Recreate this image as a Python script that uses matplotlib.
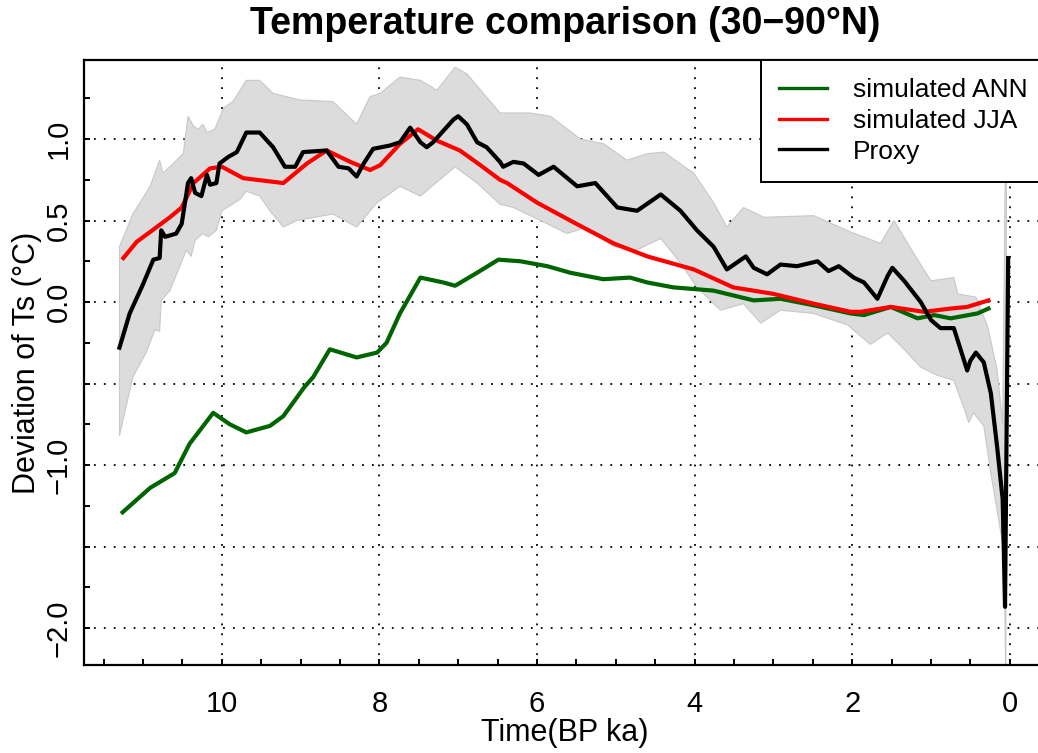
import matplotlib
matplotlib.use("Agg")
import matplotlib.pyplot as plt

plt.rcParams["font.family"] = ["Liberation Sans", "DejaVu Sans"]

# simulated annual mean (30-90N)
ann_x = [11.26, 10.91, 10.60, 10.41, 10.11, 9.90, 9.69, 9.39, 9.22, 8.95,
         8.84, 8.63, 8.29, 8.03, 7.91, 7.74, 7.48, 7.19, 7.04, 6.76,
         6.49, 6.21, 5.87, 5.58, 5.16, 4.82, 4.60, 4.27, 3.76, 3.25,
         2.91, 2.49, 2.02, 1.85, 1.51, 1.17, 0.96, 0.75, 0.41, 0.27]
ann_y = [-1.29, -1.14, -1.05, -0.87, -0.68, -0.75, -0.80, -0.76, -0.70, -0.52,
         -0.46, -0.29, -0.34, -0.31, -0.25, -0.07, 0.15, 0.12, 0.10, 0.18,
         0.26, 0.25, 0.22, 0.18, 0.14, 0.15, 0.12, 0.09, 0.07, 0.01,
         0.02, -0.02, -0.07, -0.08, -0.03, -0.10, -0.08, -0.10, -0.07, -0.04]

# simulated summer (JJA)
jja_x = [11.25, 11.08, 10.91, 10.66, 10.51, 10.36, 10.15, 10.00, 9.73, 9.22,
         8.92, 8.67, 8.37, 8.12, 7.99, 7.74, 7.51, 7.27, 6.98, 6.72,
         6.47, 6.38, 6.00, 5.54, 5.03, 4.60, 4.01, 3.51, 3.00, 2.49,
         2.02, 1.89, 1.51, 1.09, 0.75, 0.54, 0.27]
jja_y = [0.27, 0.37, 0.43, 0.52, 0.58, 0.73, 0.82, 0.83, 0.76, 0.73,
         0.85, 0.93, 0.86, 0.81, 0.84, 0.97, 1.06, 0.99, 0.93, 0.84,
         0.75, 0.73, 0.61, 0.49, 0.36, 0.28, 0.20, 0.09, 0.05, -0.01,
         -0.06, -0.06, -0.03, -0.06, -0.04, -0.03, 0.01]

# proxy reconstruction
proxy_x = [11.30, 11.17, 11.00, 10.87, 10.79, 10.77, 10.72, 10.58, 10.51, 10.43,
           10.39, 10.34, 10.26, 10.19, 10.15, 10.07, 10.03, 9.92, 9.81, 9.69,
           9.52, 9.35, 9.20, 9.07, 8.97, 8.67, 8.52, 8.39, 8.29, 8.20,
           8.08, 7.87, 7.74, 7.61, 7.48, 7.40, 7.32, 7.06, 7.00, 6.89,
           6.76, 6.64, 6.47, 6.43, 6.30, 6.17, 5.98, 5.79, 5.49, 5.26,
           4.98, 4.73, 4.43, 4.18, 3.97, 3.76, 3.59, 3.35, 3.25, 3.08,
           2.91, 2.70, 2.44, 2.30, 2.17, 1.98, 1.85, 1.68, 1.55, 1.49,
           1.34, 1.13, 1.00, 0.88, 0.71, 0.54, 0.50, 0.43, 0.33, 0.24,
           0.16, 0.09, 0.06, 0.02]
proxy_y = [-0.28, -0.07, 0.11, 0.26, 0.27, 0.44, 0.40, 0.42, 0.48, 0.73,
           0.76, 0.67, 0.65, 0.78, 0.72, 0.73, 0.85, 0.89, 0.92, 1.04,
           1.04, 0.95, 0.83, 0.83, 0.92, 0.93, 0.83, 0.82, 0.77, 0.85,
           0.94, 0.96, 0.98, 1.07, 0.98, 0.95, 0.98, 1.12, 1.14, 1.09,
           0.98, 0.95, 0.86, 0.83, 0.86, 0.85, 0.78, 0.83, 0.71, 0.73,
           0.58, 0.56, 0.66, 0.56, 0.44, 0.34, 0.20, 0.28, 0.21, 0.17,
           0.23, 0.22, 0.25, 0.19, 0.22, 0.15, 0.12, 0.02, 0.16, 0.21,
           0.13, 0.00, -0.11, -0.16, -0.16, -0.42, -0.36, -0.31, -0.37, -0.56,
           -0.89, -1.21, -1.87, 0.27]

# proxy uncertainty envelope
upper_x = [11.30, 11.13, 10.91, 10.79, 10.75, 10.66, 10.49, 10.43, 10.36, 10.30,
           10.24, 10.19, 10.09, 9.98, 9.86, 9.69, 9.52, 9.35, 9.01, 8.59,
           8.29, 8.12, 7.99, 7.74, 7.48, 7.27, 7.04, 6.89, 6.68, 6.47,
           6.09, 5.83, 5.45, 5.15, 4.86, 4.60, 4.39, 4.01, 3.76, 3.59,
           3.38, 3.12, 2.49, 2.02, 1.64, 1.47, 1.17, 1.00, 0.71, 0.66,
           0.43, 0.28, 0.16, 0.09, 0.04]
upper_y = [0.34, 0.54, 0.71, 0.87, 0.79, 0.83, 0.91, 1.14, 1.08, 1.06,
           1.09, 1.04, 1.06, 1.19, 1.23, 1.36, 1.36, 1.28, 1.24, 1.23,
           1.09, 1.26, 1.28, 1.38, 1.36, 1.30, 1.44, 1.40, 1.28, 1.16,
           1.16, 1.14, 1.00, 0.97, 0.87, 0.91, 0.92, 0.79, 0.61, 0.46,
           0.58, 0.52, 0.53, 0.43, 0.36, 0.50, 0.26, 0.13, 0.15, 0.05,
           0.03, -0.15, -0.42, -0.75, 1.60]
lower_x = [11.30, 11.13, 10.96, 10.85, 10.79, 10.77, 10.66, 10.45, 10.39, 10.34,
           10.24, 10.17, 10.07, 10.00, 9.77, 9.69, 9.52, 9.39, 9.22, 9.05,
           8.59, 8.29, 8.03, 7.74, 7.48, 7.04, 6.76, 6.47, 6.30, 5.87,
           5.62, 5.37, 5.03, 4.73, 4.43, 4.18, 3.97, 3.67, 3.38, 3.16,
           2.91, 2.49, 2.06, 1.77, 1.55, 1.34, 1.13, 0.92, 0.71, 0.56,
           0.52, 0.46, 0.33, 0.24, 0.16, 0.07, 0.05]
lower_y = [-0.82, -0.46, -0.31, -0.17, -0.18, 0.01, 0.07, 0.32, 0.28, 0.38,
           0.42, 0.40, 0.44, 0.56, 0.63, 0.68, 0.65, 0.56, 0.46, 0.50,
           0.54, 0.46, 0.61, 0.71, 0.65, 0.83, 0.73, 0.60, 0.58, 0.48,
           0.42, 0.46, 0.34, 0.32, 0.39, 0.24, 0.09, -0.05, -0.01, -0.13,
           -0.05, -0.07, -0.14, -0.26, -0.19, -0.29, -0.40, -0.45, -0.48, -0.68,
           -0.74, -0.68, -0.76, -1.05, -1.28, -1.54, -2.40]

x_major = [10, 8, 6, 4, 2, 0]
y_major = [1.0, 0.5, 0.0, -0.5, -1.0, -1.5, -2.0]
y_labels = ["1.0", "0.5", "0.0", "", "\u22121.0", "", "\u22122.0"]

fig = plt.figure(figsize=(10.38, 7.53), dpi=100)
ax = fig.add_axes([84 / 1038, 88 / 753, 962 / 1038, 605 / 753])

# envelope polygon: upper edge forward, lower edge back
poly_x = upper_x + lower_x[::-1]
poly_y = upper_y + lower_y[::-1]
ax.fill(poly_x, poly_y, facecolor="#dcdcdc", edgecolor="#c8c8c8", lw=0.8, zorder=1)

ax.plot(ann_x, ann_y, color="#006400", lw=3.0, label="simulated ANN", zorder=3)
ax.plot(jja_x, jja_y, color="#ff0000", lw=3.0, label="simulated JJA", zorder=3)
ax.plot(proxy_x, proxy_y, color="black", lw=3.0, label="Proxy", zorder=4)

ax.set_xlim(11.75, -0.46)
ax.set_ylim(-2.227, 1.485)

ax.set_xticks(x_major)
ax.set_xticklabels([str(v) for v in x_major])
ax.set_xticks([11.5 - 0.5 * i for i in range(24)], minor=True)
ax.set_yticks(y_major)
ax.set_yticklabels(y_labels, rotation=90, va="center")
ax.set_yticks([1.25 - 0.25 * i for i in range(14)], minor=True)

ax.tick_params(which="both", direction="in", length=4, width=1.4)
ax.tick_params(axis="x", labelsize=21, pad=18)
ax.tick_params(axis="y", labelsize=21, pad=8)

ax.grid(True, which="major", color="black", linestyle=(0, (1, 4.5)), lw=1.3)
ax.set_axisbelow(True)

for s in ax.spines.values():
    s.set_linewidth(1.6)

ax.set_xlabel("Time(BP ka)", fontsize=22, labelpad=0)
ax.set_ylabel("Deviation of Ts (\u00b0C)", fontsize=22, labelpad=2)
ax.set_title("Temperature comparison (30\u221290\u00b0N)", fontsize=27,
             fontweight="bold", pad=19)

leg = ax.legend(loc="upper right", bbox_to_anchor=(1.0, 1.0), borderaxespad=0,
                fontsize=19, handlelength=1.8, handletextpad=1.0,
                borderpad=0.7, labelspacing=0.25, fancybox=False, framealpha=1)
leg.get_frame().set_edgecolor("black")
leg.get_frame().set_linewidth(1.4)
for line in leg.get_lines():
    line.set_linewidth(2.4)

fig.savefig("out.png", dpi=100)
